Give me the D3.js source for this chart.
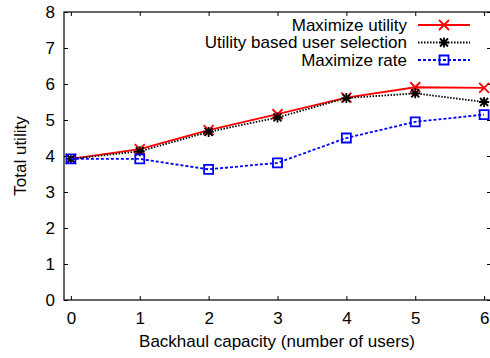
<!DOCTYPE html>
<html>
<head>
<meta charset="utf-8">
<script src="https://cdn.jsdelivr.net/npm/d3@7"></script>
<style>
  body { margin: 0; background: #fff; }
  svg { display: block; font-family: "Liberation Sans", Arial, sans-serif; }
  .axis text { font-size: 17px; fill: #000; }
</style>
</head>
<body>
<div id="chart"></div>
<script>
// values
const capacity = [0, 1, 2, 3, 4, 5, 6];
const maxUtility = [3.92, 4.19, 4.72, 5.16, 5.62, 5.91, 5.89];
const userSelection = [3.92, 4.13, 4.67, 5.07, 5.61, 5.74, 5.5];
const maxRate = [3.92, 3.92, 3.63, 3.81, 4.5, 4.95, 5.15];
const xTicks = [0, 1, 2, 3, 4, 5, 6];
const yTicks = [0, 1, 2, 3, 4, 5, 6, 7, 8];
const seriesNames = ['Maximize utility', 'Utility based user selection', 'Maximize rate'];

const W = 490, H = 358;
const box = { left: 64, right: 491, top: 12, bottom: 300 };

// gnuplot-like point types
const crossSym = { draw(c, s) { let r = s; c.moveTo(-r,-r); c.lineTo(r,r); c.moveTo(-r,r); c.lineTo(r,-r); } };
const starSym = { draw(c, s) { let r = s; crossSym.draw(c, s*0.8); c.moveTo(-r,0); c.lineTo(r,0); c.moveTo(0,-r); c.lineTo(0,r); } };
const boxSym = { draw(c, s) { c.rect(-s,-s,2*s,2*s); } };

const series = [
  { name: seriesNames[0], values: maxUtility, color: '#ff0000', dash: null, sym: crossSym, size: 5 },
  { name: seriesNames[1], values: userSelection, color: '#000000', dash: '1.5,1.5', sym: starSym, size: 5 },
  { name: seriesNames[2], values: maxRate, color: '#0000ff', dash: '3,2', sym: boxSym, size: 4.5 }
];

let svg = d3.select('#chart').append('svg').attr('width', W).attr('height', H);

let x = d3.scaleLinear().domain([-0.1, 6.1]).range([box.left, box.right]);
let y = d3.scaleLinear().domain([0, 8]).range([box.bottom, box.top]);

// axes, ticks point inward and are mirrored
svg.append('g').attr('class','axis').attr('transform','translate(0,'+box.bottom+')')
  .call(d3.axisBottom(x).tickValues(xTicks).tickFormat(d3.format('d')).tickSize(-4).tickPadding(12));
svg.append('g').attr('class','axis').attr('transform','translate('+box.left+',0)')
  .call(d3.axisLeft(y).tickValues(yTicks).tickFormat(d3.format('d')).tickSize(-4).tickPadding(9));
svg.append('g').attr('class','axis mirror').attr('transform','translate(0,'+box.top+')')
  .call(d3.axisTop(x).tickValues(xTicks).tickFormat('').tickSize(-4));
svg.append('g').attr('class','axis mirror').attr('transform','translate('+box.right+',0)')
  .call(d3.axisRight(y).tickValues(yTicks).tickFormat('').tickSize(-4));
svg.selectAll('.axis .domain').remove();
svg.selectAll('.axis line').attr('stroke','#000').attr('stroke-width',1);

svg.append('rect')
  .attr('x', box.left).attr('y', box.top)
  .attr('width', box.right-box.left).attr('height', box.bottom-box.top)
  .attr('fill','none').attr('stroke','#000').attr('stroke-width',1.2);

// axis titles
svg.append('text').attr('x', 277).attr('y', 347).attr('text-anchor','middle')
  .attr('font-size', 17).text('Backhaul capacity (number of users)');
svg.append('text').attr('transform','translate(26,156) rotate(-90)').attr('text-anchor','middle')
  .attr('font-size', 17).text('Total utility');

// lines + points
let line = d3.line().x((d,i) => x(capacity[i])).y(d => y(d));
series.forEach(s => {
  let g = svg.append('g');
  g.append('path').attr('d', line(s.values))
    .attr('fill','none').attr('stroke', s.color).attr('stroke-width', 1.8)
    .attr('stroke-dasharray', s.dash);
  g.selectAll('path.pt').data(s.values).enter().append('path').attr('class','pt')
    .attr('transform', (d,i) => 'translate('+x(capacity[i])+','+y(d)+')')
    .attr('d', d3.symbol(s.sym, s.size))
    .attr('fill','none').attr('stroke', s.color).attr('stroke-width', 1.8);
});

// legend
let lg = svg.append('g').attr('class','legend');
series.forEach((s,i) => {
  let ly = 25 + i*17.5;
  lg.append('text').attr('x', 407).attr('y', ly).attr('dy','0.35em')
    .attr('text-anchor','end').attr('font-size',17).text(s.name);
  lg.append('line').attr('x1',418).attr('x2',470).attr('y1',ly).attr('y2',ly)
    .attr('stroke', s.color).attr('stroke-width',1.8).attr('stroke-dasharray', s.dash);
  lg.append('path').attr('transform','translate(444,'+ly+')')
    .attr('d', d3.symbol(s.sym, s.size))
    .attr('fill','none').attr('stroke', s.color).attr('stroke-width',1.8);
});
</script>
</body>
</html>
